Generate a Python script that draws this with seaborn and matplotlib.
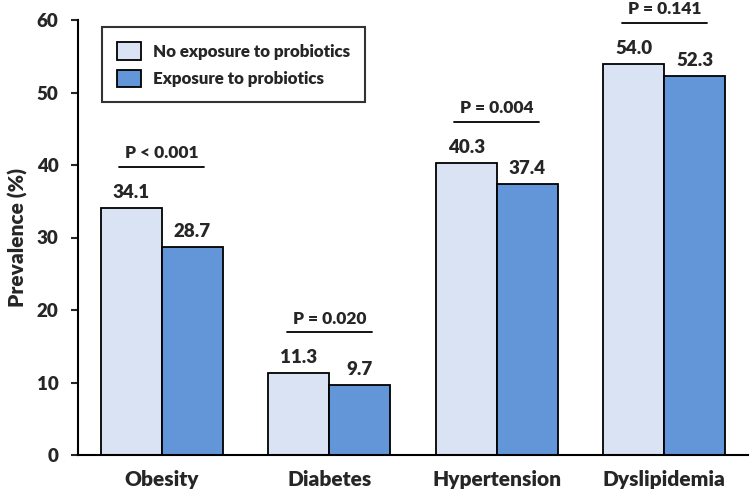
import numpy as np
import pandas as pd
import matplotlib
matplotlib.use("Agg")
import matplotlib.pyplot as plt
import seaborn as sns

conditions = ["Obesity", "Diabetes", "Hypertension", "Dyslipidemia"]
groups = ["No exposure to probiotics", "Exposure to probiotics"]
no_exposure = [34.1, 11.3, 40.3, 54.0]
exposure = [28.7, 9.7, 37.4, 52.3]
p_values = ["P < 0.001", "P = 0.020", "P = 0.004", "P = 0.141"]
yticks = [0, 10, 20, 30, 40, 50, 60]

df = pd.DataFrame({
    "condition": conditions * 2,
    "group": [groups[0]] * 4 + [groups[1]] * 4,
    "prevalence": no_exposure + exposure,
})

sns.set_style("white")
plt.rcParams["font.family"] = ["Lato", "DejaVu Sans"]
W = "heavy"
plt.rcParams["font.weight"] = W

fig = plt.figure(figsize=(7.53, 5), dpi=100)
ax = fig.add_axes([0.1036, 0.09, 0.8898, 0.87])

sns.barplot(data=df, x="condition", y="prevalence", hue="group",
            order=conditions, hue_order=groups,
            palette=["#dae3f3", "#6396d8"], width=0.73, gap=0,
            edgecolor="black", linewidth=1.3, saturation=1, ax=ax)

for cont in ax.containers:
    ax.bar_label(cont, fmt="%.1f", padding=5, fontsize=13.5, fontweight=W)

# p-value brackets above each pair
for i, p in enumerate(p_values):
    top = max(no_exposure[i], exposure[i]) + 5.6
    ax.plot([i - 0.255, i + 0.255], [top, top], color="black", lw=1.3, clip_on=False)
    ax.text(i, top + 0.8, p, ha="center", va="bottom", fontsize=12.5,
            fontweight=W, clip_on=False)

ax.set_xlim(-0.5, 3.5)
ax.set_ylim(0, 60)
ax.set_yticks(yticks)
ax.set_xlabel("")
ax.set_ylabel("Prevalence (%)", fontsize=15, fontweight=W, labelpad=6)
ax.tick_params(axis="y", direction="out", length=5, width=1.5, left=True,
               labelsize=13.5, pad=9)
ax.tick_params(axis="x", length=0, labelsize=15, pad=11)
for lab in ax.get_xticklabels() + ax.get_yticklabels():
    lab.set_fontweight(W)

sns.despine(ax=ax)
for s in ["left", "bottom"]:
    ax.spines[s].set_linewidth(1.5)
    ax.spines[s].set_color("black")

leg = ax.legend(loc="upper left", bbox_to_anchor=(0.036, 0.984), borderaxespad=0,
                fontsize=12.2, frameon=True, fancybox=False, edgecolor="black",
                handlelength=1.4, handleheight=1.2, handletextpad=0.7,
                borderpad=0.9, labelspacing=0.6)
leg.get_frame().set_linewidth(1.5)
for t in leg.get_texts():
    t.set_fontweight(W)

fig.savefig("out.png", dpi=100)
